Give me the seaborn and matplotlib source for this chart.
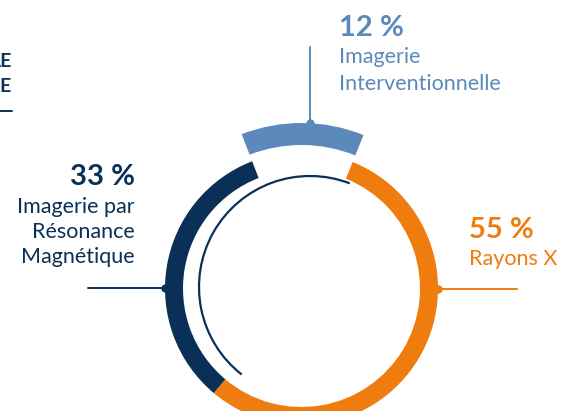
import numpy as np
import matplotlib.pyplot as plt
import seaborn as sns
from matplotlib.patches import Arc

# data
labels = ['Rayons X', 'Imagerie par\nRésonance\nMagnétique', 'Imagerie\nInterventionnelle']
shares = [55, 33, 12]
pct_text = [f'{v} %' for v in shares]

orange = '#EE7C0E'
navy = '#0A3057'
light = '#5B8ABA'

sns.set_style('white')
plt.rcParams['font.family'] = ['Lato', 'DejaVu Sans']

fig = plt.figure(figsize=(5.61, 4.11), dpi=100)
ax = fig.add_axes([0, 0, 1, 1])

cx, cy = 301.5, 122.5
start = 68

# main ring (orange + navy), third slice left empty
ax.pie(shares, colors=[orange, navy, 'none'], radius=136.5, center=(cx, cy),
       startangle=start, counterclock=False, frame=True,
       wedgeprops=dict(width=18, linewidth=0))
# outer ring: only the small slice
ax.pie(shares, colors=['none', 'none', light], radius=165.5, center=(cx, cy),
       startangle=start, counterclock=False, frame=True,
       wedgeprops=dict(width=22, linewidth=0))
ax.set_xlim(0, 561)
ax.set_ylim(0, 411)
ax.set_aspect('equal')
ax.axis('off')

# thin inner arc
ax.add_patch(Arc((310, 124), 222, 222, theta1=69, theta2=232, color=navy, lw=1.6))

def polar(r, a):
    t = np.deg2rad(a)
    return cx + r * np.cos(t), cy + r * np.sin(t)

# leader lines with dots
x0, y0 = polar(136.5, 180)
ax.plot([88, x0], [y0, y0], color=navy, lw=1.4)
ax.plot(x0, y0, 'o', color=navy, ms=6, mew=0)
x1, y1 = polar(136.5, 0)
ax.plot([x1, 517], [y1, y1], color=orange, lw=1.4)
ax.plot(x1, y1, 'o', color=orange, ms=6, mew=0)
x2, y2 = polar(165.5, 87)
ax.plot([x2, x2], [y2, 364], color=light, lw=1.4)
ax.plot(x2, y2, 'o', color=light, ms=6, mew=0)

big = 21
small = 15.5

def block(x, y_pct, y_first, step, i, color, ha):
    ax.text(x, y_pct, pct_text[i], color=color, fontsize=big, fontweight='bold',
            ha=ha, va='baseline')
    for k, line in enumerate(labels[i].split('\n')):
        ax.text(x, y_first - step * k, line, color=color, fontsize=small,
                ha=ha, va='baseline')

block(339, 375, 348, 27, 2, light, 'left')
block(135, 226, 198, 25, 1, navy, 'right')
block(469, 173, 146, 25, 0, orange, 'left')

# cut-off title at top left
ax.text(12, 344, 'LE', color=navy, fontsize=14, fontweight='bold', ha='right', va='baseline')
ax.text(11, 319, 'E', color=navy, fontsize=14, fontweight='bold', ha='right', va='baseline')
ax.plot([0, 12], [300, 300], color=navy, lw=1.4)

fig.savefig('out.png', dpi=100)
